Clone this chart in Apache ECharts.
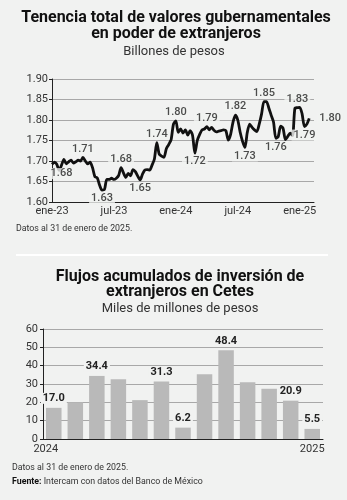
<!DOCTYPE html>
<html>
<head>
<meta charset="utf-8">
<script src="https://cdn.jsdelivr.net/npm/echarts@6/dist/echarts.min.js"></script>
<style>
html,body{margin:0;padding:0;background:#f1f2f1;}
#c{width:347px;height:500px;}
</style>
</head>
<body>
<div id="c"></div>
<script>
// ---- Chart 1: weekly holdings (billones de pesos), ene-2023 .. ene-2025
var holdings = [
1.692,1.697,1.692,1.677,1.690,1.704,1.693,1.698,1.702,1.695,
1.698,1.702,1.700,1.709,1.700,1.693,1.697,1.684,1.662,1.659,
1.641,1.629,1.630,1.655,1.655,1.658,1.655,1.658,1.665,1.684,
1.671,1.660,1.670,1.664,1.679,1.674,1.663,1.654,1.668,1.678,
1.679,1.678,1.690,1.705,1.745,1.717,1.712,1.709,1.730,1.740,
1.752,1.790,1.798,1.770,1.778,1.768,1.776,1.763,1.774,1.763,
1.719,1.750,1.765,1.776,1.778,1.784,1.776,1.782,1.775,1.771,
1.773,1.774,1.776,1.774,1.751,1.765,1.795,1.812,1.800,1.770,
1.748,1.733,1.770,1.790,1.782,1.776,1.772,1.790,1.815,1.845,
1.845,1.830,1.812,1.795,1.755,1.760,1.785,1.780,1.752,1.760,
1.768,1.762,1.829,1.830,1.831,1.815,1.784,1.790,1.804
];
var xTickLabels = ['ene-23','jul-23','ene-24','jul-24','ene-25'];
var weeksPerTick = 26;
var annIndex = [4,13,21,29,37,44,52,60,65,77,81,89,94,103,106,108];
var annText  = ['1.68','1.71','1.63','1.68','1.65','1.74','1.80','1.72','1.79','1.82','1.73','1.85','1.76','1.83','1.79','1.80'];
var yTicks1 = [1.60,1.90,0.05];

// ---- Chart 2: monthly flows (miles de millones de pesos)
var months = ['2024-01','2024-02','2024-03','2024-04','2024-05','2024-06','2024-07','2024-08','2024-09','2024-10','2024-11','2024-12','2025-01'];
var flows = [17.0,20.0,34.4,32.6,21.2,31.3,6.2,35.3,48.4,30.9,27.4,20.9,5.5];
var flowLabelShown = [true,false,true,false,false,true,true,false,true,false,false,true,true];

var FONT = 'Roboto';
var BG = '#f1f2f1';
var lineData = holdings.map(function(v,i){return [i,v];});
var annData = annIndex.map(function(idx,k){
  var v = holdings[idx];
  var pos;
  if (idx === holdings.length-1) pos = 'right';
  else {
    var prev = holdings[Math.max(0,idx-1)], next = holdings[Math.min(holdings.length-1,idx+1)];
    pos = (v >= (prev+next)/2) ? 'top' : 'bottom';
  }
  return {value:[idx,v], label:{show:true, position:pos, formatter:annText[k], distance: pos==='right'?8:3}};
});

var chart = echarts.init(document.getElementById('c'), null, {renderer:'canvas'});
var axisLabelColor = '#333';
chart.setOption({
  backgroundColor:BG,
  animation:false,
  textStyle:{fontFamily:FONT},
  graphic:[
    {type:'text', x:176, y:17.5, style:{text:'Tenencia total de valores gubernamentales', font:'bold 16px '+FONT, fill:'#111', textAlign:'center', textVerticalAlign:'middle'}},
    {type:'text', x:176, y:33.5, style:{text:'en poder de extranjeros', font:'bold 16px '+FONT, fill:'#111', textAlign:'center', textVerticalAlign:'middle'}},
    {type:'text', x:174, y:52, style:{text:'Billones de pesos', font:'13px '+FONT, fill:'#333', textAlign:'center', textVerticalAlign:'middle'}},
    {type:'text', x:16, y:229, style:{text:'Datos al 31 de enero de 2025.', font:'8.8px '+FONT, fill:'#333', textAlign:'left', textVerticalAlign:'middle'}},
    {type:'rect', shape:{x:16, y:254, width:312, height:2}, style:{fill:'#ffffff'}},
    {type:'text', x:180, y:277, style:{text:'Flujos acumulados de inversión de', font:'bold 16px '+FONT, fill:'#111', textAlign:'center', textVerticalAlign:'middle'}},
    {type:'text', x:180, y:292, style:{text:'extranjeros en Cetes', font:'bold 16px '+FONT, fill:'#111', textAlign:'center', textVerticalAlign:'middle'}},
    {type:'text', x:180, y:309, style:{text:'Miles de millones de pesos', font:'13px '+FONT, fill:'#333', textAlign:'center', textVerticalAlign:'middle'}},
    {type:'text', x:12, y:468, style:{text:'Datos al 31 de enero de 2025.', font:'8.8px '+FONT, fill:'#333', textAlign:'left', textVerticalAlign:'middle'}},
    {type:'text', x:12, y:482, style:{text:'{b|Fuente:}{n| Intercam con datos del Banco de México}', fontSize:8.8, fontFamily:FONT, fill:'#333', textAlign:'left', textVerticalAlign:'middle',
      rich:{b:{fontWeight:'bold', fontSize:8.8, fontFamily:FONT, fill:'#111'}, n:{fontSize:8.8, fontFamily:FONT, fill:'#333'}}}}
  ],
  grid:[
    {left:52, right:33, top:79, bottom:298, containLabel:false},
    {left:43, right:24, top:329, bottom:61, containLabel:false}
  ],
  xAxis:[
    {gridIndex:0, type:'value', min:0, max:110, interval:weeksPerTick,
     axisLine:{show:true, onZero:false, lineStyle:{color:'#222', width:1}},
     axisTick:{show:false}, splitLine:{show:false},
     axisLabel:{color:axisLabelColor, fontSize:11, margin:4, showMaxLabel:false,
       formatter:function(v){var k=v/weeksPerTick; return (Math.abs(k-Math.round(k))<1e-6 && xTickLabels[Math.round(k)])?xTickLabels[Math.round(k)]:'';}}},
    {gridIndex:1, type:'category', data:months, boundaryGap:true,
     axisLine:{show:true, lineStyle:{color:'#222', width:1}},
     axisTick:{show:false},
     axisLabel:{color:axisLabelColor, fontSize:11, margin:5, interval:0,
       formatter:function(m,i){ if(m.slice(5)!=='01') return ''; return i===0 ? '{a|'+m.slice(0,4)+'}' : m.slice(0,4);},
       rich:{a:{fontSize:11, color:axisLabelColor, padding:[0,16,0,0]}}}}
  ],
  yAxis:[
    {gridIndex:0, type:'value', min:yTicks1[0], max:yTicks1[1], interval:yTicks1[2],
     axisLine:{show:true, lineStyle:{color:'#222', width:1}},
     axisTick:{show:true, length:3, lineStyle:{color:'#222'}},
     splitLine:{show:true, lineStyle:{color:'#a8a8a8', width:1}},
     axisLabel:{color:axisLabelColor, fontSize:11, margin:4, formatter:function(v){return v.toFixed(2);}}},
    {gridIndex:1, type:'value', min:0, max:60, interval:10,
     axisLine:{show:true, lineStyle:{color:'#222', width:1}},
     axisTick:{show:true, length:3, lineStyle:{color:'#222'}},
     splitLine:{show:true, lineStyle:{color:'#a8a8a8', width:1}},
     axisLabel:{color:axisLabelColor, fontSize:11, margin:5}}
  ],
  series:[
    {type:'line', xAxisIndex:0, yAxisIndex:0, data:lineData, showSymbol:false, smooth:0.25,
     lineStyle:{color:'#111', width:2.8}, z:3},
    {type:'scatter', xAxisIndex:0, yAxisIndex:0, data:annData, symbolSize:0, z:4,
     label:{show:true, color:'#222', fontSize:11, fontWeight:500, fontFamily:FONT, backgroundColor:BG, padding:[0,2]}},
    {type:'bar', xAxisIndex:1, yAxisIndex:1, barWidth:'72%',
     itemStyle:{color:'#b9b9b9'},
     data:flows.map(function(v,i){return {value:v, label:{show:flowLabelShown[i]}};}),
     label:{position:'top', distance:4, color:'#222', fontSize:11, fontWeight:'bold', fontFamily:FONT,
       backgroundColor:BG, padding:[0,2],
       formatter:function(p){return p.value.toFixed(1);}}}
  ]
});
</script>
</body>
</html>
